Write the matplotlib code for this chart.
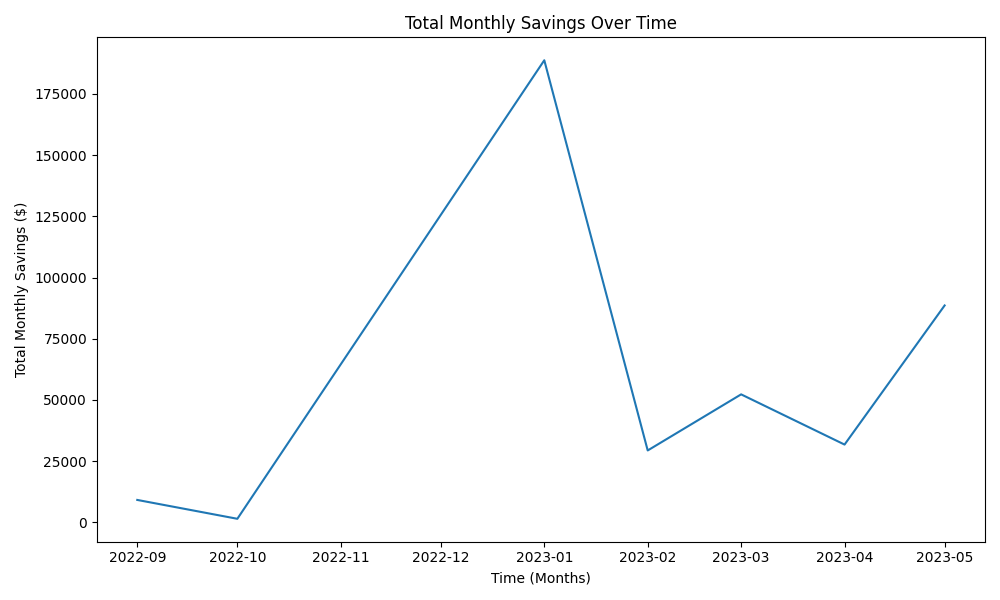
import matplotlib
matplotlib.use("Agg")
import matplotlib.pyplot as plt
import pandas as pd

months = ['2022-09-01', '2022-10-01', '2023-01-01', '2023-02-01',
          '2023-03-01', '2023-04-01', '2023-05-01']
savings = [9200, 1500, 188700, 29400, 52300, 31800, 88600]

dates = pd.to_datetime(months)

plt.figure(figsize=(10, 6))
plt.plot(dates, savings)
plt.title('Total Monthly Savings Over Time')
plt.xlabel('Time (Months)')
plt.ylabel('Total Monthly Savings ($)')
plt.tight_layout()
plt.savefig('out.png', dpi=100)
